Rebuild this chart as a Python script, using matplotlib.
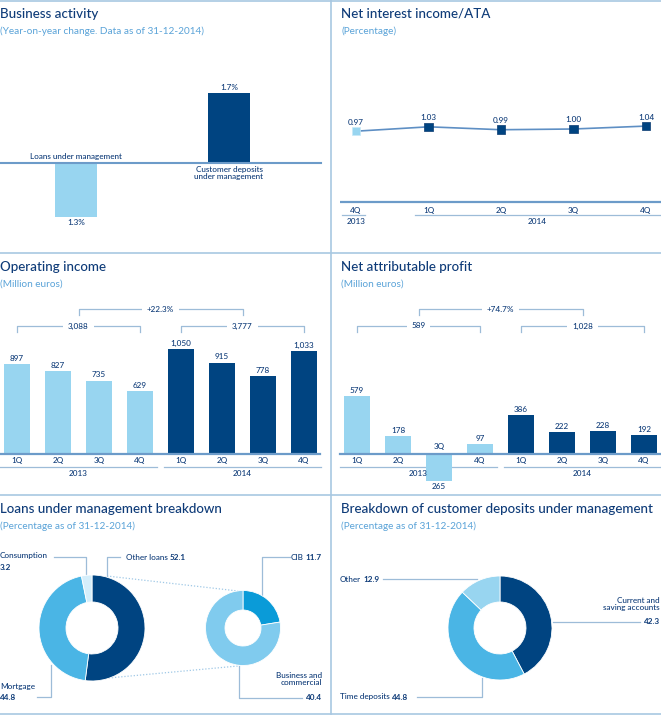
import matplotlib
matplotlib.use("Agg")
import matplotlib.pyplot as plt
from matplotlib.transforms import Affine2D, blended_transform_factory

plt.rcParams['font.family'] = ['Lato', 'DejaVu Sans']

# --- data ---
activity_labels = ["Loans under management", "Customer deposits\nunder management"]
activity_values = [-1.3, 1.7]

nim_quarters = ["4Q", "1Q", "2Q", "3Q", "4Q"]
nim_values = [0.97, 1.03, 0.99, 1.00, 1.04]

quarters = ["1Q", "2Q", "3Q", "4Q", "1Q", "2Q", "3Q", "4Q"]
years = ["2013", "2014"]
op_income = [897, 827, 735, 629, 1050, 915, 778, 1033]
op_totals = ["3,088", "3,777"]
op_growth = "+22.3%"
net_profit = [579, 178, -265, 97, 386, 222, 228, 192]
np_totals = ["589", "1,028"]
np_growth = "+74.7%"

loans_labels = ["Other loans", "Mortgage", "Consumption"]
loans_values = [52.1, 44.8, 3.2]
other_loans_labels = ["CIB", "Business and\ncommercial"]
other_loans_values = [11.7, 40.4]

deposits_labels = ["Current and\nsaving accounts", "Time deposits", "Other"]
deposits_values = [42.3, 44.8, 12.9]

# --- colours ---
DARK = '#004481'
LIGHT = '#98d5f0'
MID = '#4ab5e5'
CIB_C = '#0a9bd8'
BUS_C = '#80cbee'
CONS_C = '#d4eefb'
NAVY = '#0e3b78'
SUB = '#5aa3d8'
BORDER = '#a8c8e2'
BASE = '#6c9bc9'
BRACK = '#9dbcd8'

W, H = 661, 715
fig = plt.figure(figsize=(W / 100, H / 100), dpi=100)
flip = Affine2D().scale(1, -1).translate(0, H)   # pixel (from top) -> display

bg = fig.add_axes([0, 0, 1, 1])
bg.set_xlim(0, W)
bg.set_ylim(H, 0)
bg.axis('off')


def px_ax(left, top, right, bottom, x_at, x_step, y_at, y_step):
    # data x=0 sits at pixel x_at (x_step px per unit), data y=0 at pixel y_at (y_step px per unit)
    ax = fig.add_axes([left / W, 1 - bottom / H, (right - left) / W, (bottom - top) / H])
    ax.set_xlim((left - x_at) / x_step, (right - x_at) / x_step)
    ax.set_ylim((y_at - bottom) / y_step, (y_at - top) / y_step)
    ax.axis('off')
    return ax


def xpx(ax):
    return blended_transform_factory(ax.transData, flip)


def titre(x, y, t, s):
    bg.text(x, y, t, color=NAVY, fontsize=9.6, va='center', ha='left', fontweight='medium')
    bg.text(x, y + 17, s, color=SUB, fontsize=7.2, va='center', ha='left')


# borders
for y in [0.5, 253, 494.5, 713.5]:
    bg.plot([0, W], [y, y], color=BORDER, lw=1.2)
bg.plot([330.5, 330.5], [0, 714], color=BORDER, lw=1.2)

titre(0, 14, "Business activity", "(Year-on-year change. Data as of 31-12-2014)")
titre(341, 14, "Net interest income/ATA", "(Percentage)")
titre(0, 267, "Operating income", "(Million euros)")
titre(341, 267, "Net attributable profit", "(Million euros)")
titre(0, 509, "Loans under management breakdown", "(Percentage as of 31-12-2014)")
titre(341, 509, "Breakdown of customer deposits under management", "(Percentage as of 31-12-2014)")

lab = dict(color=NAVY, fontsize=5.9, fontweight='medium')
bold = dict(color=NAVY, fontsize=5.9, fontweight='bold')

# --- business activity ---
ax1 = px_ax(0, 60, 325, 240, 76, 153, 163, 41.3)
ax1.bar(range(2), activity_values, width=42 / 153, color=[LIGHT, DARK])
ax1.axhline(0, xmin=0, xmax=321 / 325, color=BASE, lw=1.5)
for i, v in enumerate(activity_values):
    txt = f"{abs(v):.1f}%"
    if v > 0:
        ax1.annotate(txt, (i, v), xytext=(0, 1.5), textcoords='offset points', ha='center', va='bottom', **lab)
        ax1.annotate(activity_labels[i], (i, 0), xytext=(0, -2.5), textcoords='offset points',
                     ha='center', va='top', linespacing=1.0, **lab)
    else:
        ax1.annotate(txt, (i, v), xytext=(0, -2), textcoords='offset points', ha='center', va='top', **lab)
        ax1.annotate(activity_labels[i], (i, 0), xytext=(0, 2.5), textcoords='offset points',
                     ha='center', va='bottom', **lab)

# --- net interest income / ATA ---
ax2 = px_ax(340, 60, 661, 232, 356, 72.5, 202, 73)
t2 = xpx(ax2)
xs = list(range(len(nim_values)))
ax2.plot(xs, nim_values, color='#5e8fc4', lw=1.2, zorder=2)
ax2.scatter(xs, nim_values, marker='s', s=38, color=[LIGHT] + [DARK] * 4, zorder=3,
            edgecolor=['#c8e9f8'] + ['#0a3a70'] * 4, linewidth=0.5)
for i, v in enumerate(nim_values):
    ax2.annotate(f"{v:.2f}", (i, v), xytext=(0, 4), textcoords='offset points', ha='center', va='bottom', **lab)
    ax2.text(i, 210, nim_quarters[i], transform=t2, ha='center', va='center', **lab)
ax2.plot([-0.22, 4.2], [202, 202], transform=t2, color=BASE, lw=1.6)
ax2.plot([-0.19, 0.12], [215, 215], transform=t2, color=BRACK, lw=0.9)
ax2.plot([0.81, 4.2], [215, 215], transform=t2, color=BRACK, lw=0.9)
ax2.text(0, 221.5, years[0], transform=t2, ha='center', va='center', **lab)
ax2.text(2.5, 221.5, years[1], transform=t2, ha='center', va='center', **lab)


def bracket(ax, x0, x1, y, text):
    t = xpx(ax)
    ax.plot([x0, x0, x1, x1], [y + 6, y, y, y + 6], transform=t, color=BRACK, lw=0.9)
    ax.text((x0 + x1) / 2, y, text, transform=t, ha='center', va='center',
            bbox=dict(fc='white', ec='none', pad=3.5), **lab)


def quarter_bars(ax, values, totals, growth, right_edge):
    t = xpx(ax)
    colors = [LIGHT] * 4 + [DARK] * 4
    ax.bar(range(8), values, width=26 / 41, color=colors, zorder=2)
    ax.plot([-0.42, right_edge], [454, 454], transform=t, color=BASE, lw=1.6, zorder=3)
    for i, v in enumerate(values):
        if v >= 0:
            ax.annotate(f"{v:,}", (i, v), xytext=(0, 1.5), textcoords='offset points',
                        ha='center', va='bottom', **lab)
            ax.text(i, 461, quarters[i], transform=t, ha='center', va='center', **lab)
        else:
            ax.annotate(f"{abs(v):,}", (i, v), xytext=(0, -2), textcoords='offset points',
                        ha='center', va='top', **lab)
            ax.text(i, 447, quarters[i], transform=t, ha='center', va='center', **lab)
    for k in range(2):
        ax.plot([4 * k - 0.42, 4 * k + 3.42], [467, 467], transform=t, color=BRACK, lw=0.9, zorder=1)
        ax.text(4 * k + 1.5, 474, years[k], transform=t, ha='center', va='center', **lab)
        bracket(ax, 4 * k, 4 * k + 3, 326, totals[k])
    bracket(ax, 1.5, 5.5, 309, growth)


ax3 = px_ax(0, 290, 330, 500, 17, 41, 454, 0.1)
quarter_bars(ax3, op_income, op_totals, op_growth, 7.4)
ax4 = px_ax(330, 290, 661, 500, 357, 41, 454, 0.1)
quarter_bars(ax4, net_profit, np_totals, np_growth, 7.4)


# --- donuts ---
def donut(cx, cy, r, r_in, values, colors):
    ax = fig.add_axes([(cx - r) / W, 1 - (cy + r) / H, 2 * r / W, 2 * r / H])
    ax.pie(values, colors=colors, startangle=90, counterclock=False,
           wedgeprops=dict(width=(r - r_in) / r, edgecolor='white', linewidth=0.6))
    ax.set_xlim(-1, 1)
    ax.set_ylim(-1, 1)
    ax.axis('off')
    return ax


donut(92, 628, 53, 26, loans_values, [DARK, MID, CONS_C])
donut(243, 628, 37.5, 18, other_loans_values, [CIB_C, BUS_C])
donut(500, 628, 52, 26, deposits_values, [DARK, MID, LIGHT])

dot = dict(color='#9fc8e6', lw=0.9, ls=(0, (1, 1.5)))
bg.plot([107, 238], [576, 591], **dot)
bg.plot([87, 238], [680, 666], **dot)

lead = dict(color=BRACK, lw=0.9)


def inline(x, y, name, value, ha='left'):
    # name followed by value in bold on the same line
    if ha == 'left':
        t = bg.text(x, y, name, ha='left', va='center', **lab)
        bg.annotate(f"{value}", xy=(1, 0.5), xycoords=t, xytext=(1.5, 0), textcoords='offset points',
                    ha='left', va='center', **bold)
    else:
        t = bg.text(x, y, f"{value}", ha='right', va='center', **bold)
        bg.annotate(name, xy=(0, 0.5), xycoords=t, xytext=(-1.5, 0), textcoords='offset points',
                    ha='right', va='center', **lab)


def stacked(x, y, name, value, ha='left'):
    # name on one or more lines, value in bold below
    n = name.count("\n") + 1
    bg.text(x, y, name, ha=ha, va='top', linespacing=1.0, multialignment=ha, **lab)
    bg.text(x, y + 10 * n + 5, f"{value}", ha=ha, va='center', **bold)


# loans labels
bg.plot([54, 86, 86], [557, 557, 575], **lead)
stacked(0, 552, loans_labels[2], loans_values[2])
bg.plot([120, 107, 107], [557, 557, 576], **lead)
inline(126, 557, loans_labels[0], loans_values[0])
bg.plot([37, 51, 51], [697, 697, 665], **lead)
stacked(0, 683, loans_labels[1], loans_values[1])
bg.plot([290, 262, 262], [557, 557, 595], **lead)
inline(322, 557, other_loans_labels[0], other_loans_values[0], ha='right')
bg.plot([239, 239, 302], [666, 698, 698], **lead)
stacked(322, 672, other_loans_labels[1], other_loans_values[1], ha='right')

# deposits labels
bg.plot([383, 477], [579, 579], **lead)
inline(340, 579, deposits_labels[2], deposits_values[2])
bg.plot([553, 640], [622, 622], **lead)
stacked(660, 597, deposits_labels[0], deposits_values[0], ha='right')
bg.plot([417, 482, 482], [697, 697, 678], **lead)
inline(340, 697, deposits_labels[1], deposits_values[1])

fig.savefig("out.png", dpi=100, facecolor='white')
